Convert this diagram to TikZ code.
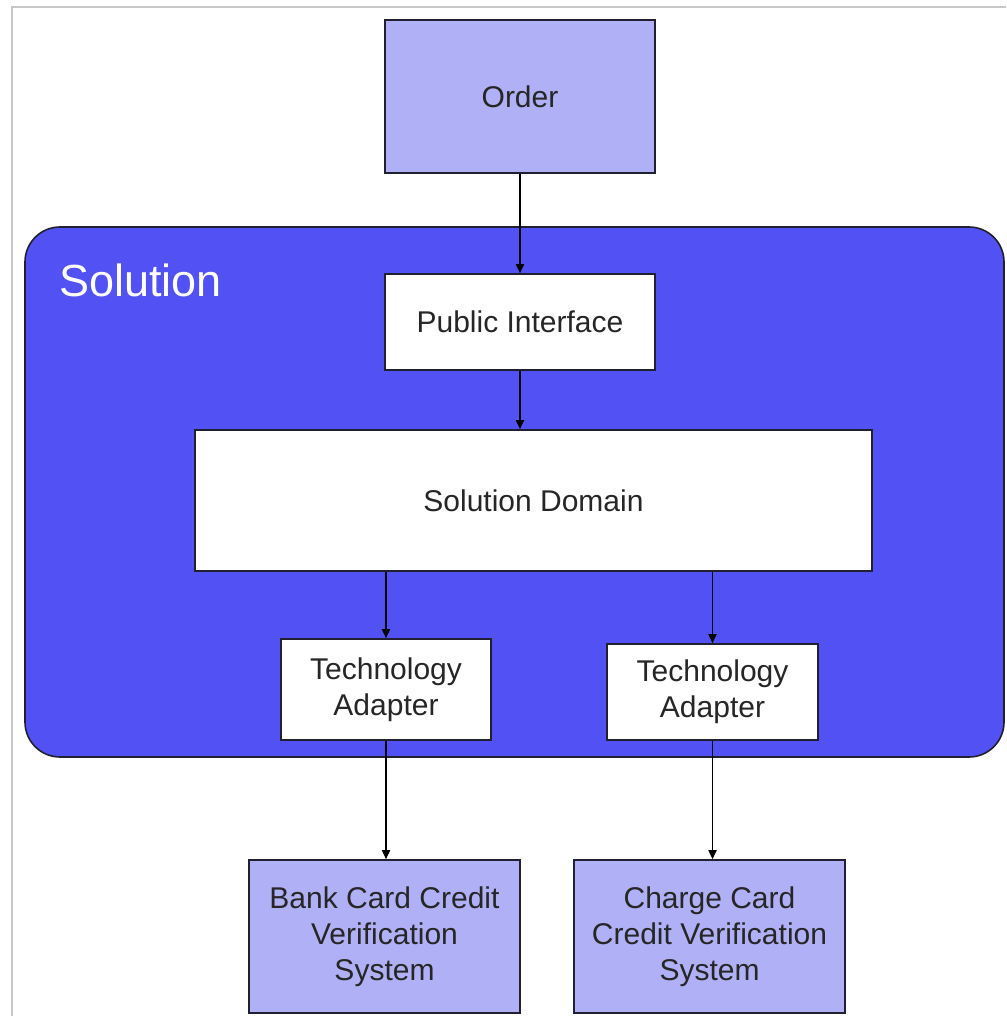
\documentclass[tikz,border=0pt]{standalone}
\usepackage{fontspec}
\setmainfont{Liberation Sans}
\definecolor{solfill}{HTML}{5252F4}
\definecolor{extfill}{HTML}{B0B0F7}
\definecolor{frame}{HTML}{C8C8C8}
\definecolor{edge}{HTML}{202030}
\usetikzlibrary{arrows.meta,positioning}
\tikzset{
  >={Triangle[length=9pt,width=8pt]},
  box/.style={draw=edge,line width=1.6pt,inner sep=0pt,align=center,fill=white,
    font=\fontsize{30}{36}\selectfont,text=black!85},
  ebox/.style={box,fill=extfill},
  arr/.style={->,draw=black,line width=1.7pt},
}
\begin{document}
\begin{tikzpicture}[x=1pt,y=-1pt]
\useasboundingbox (0,0) rectangle (1006,1016);
% outer frame
\draw[frame,line width=1.2pt] (12,1016) -- (12,7) -- (1006,7);
% solution container
\node[draw=edge,line width=1.6pt,fill=solfill,rounded corners=35pt,inner sep=0pt,
  minimum width=979pt,minimum height=530pt] (solution) at (514.5,492) {};
\node[anchor=west,text=white,inner sep=0pt,font=\fontsize{45}{52}\selectfont] (sollab) at (59,280) {Solution};
% boxes
\node[ebox,minimum width=270pt,minimum height=153pt] (order) at (520,96.5) {Order};
\node[box,minimum width=270pt,minimum height=96pt] (pubif) at (520,322) {Public Interface};
\node[box,minimum width=677pt,minimum height=141pt] (domain) at (533.5,500.5) {Solution Domain};
\node[box,minimum width=210pt,minimum height=101pt] (adaptA) at (386,689.5) {Technology\\Adapter};
\node[box,minimum width=211pt,minimum height=96pt] (adaptB) at (712.5,692) {Technology\\Adapter};
\node[ebox,minimum width=271pt,minimum height=153pt] (bank) at (384.5,936.5) {Bank Card Credit\\Verification\\System};
\node[ebox,minimum width=271pt,minimum height=153pt] (charge) at (709.5,936.5) {Charge Card\\Credit Verification\\System};
% connectors
\draw[arr] (order.south) -- (pubif.north);
\draw[arr] (pubif.south) -- (pubif.south |- domain.north);
\draw[arr] (adaptA.north |- domain.south) -- (adaptA.north);
\draw[arr] (adaptB.north |- domain.south) -- (adaptB.north);
\draw[arr] (adaptA.south) -- (adaptA.south |- bank.north);
\draw[arr] (adaptB.south) -- (adaptB.south |- charge.north);
\end{tikzpicture}
\end{document}
